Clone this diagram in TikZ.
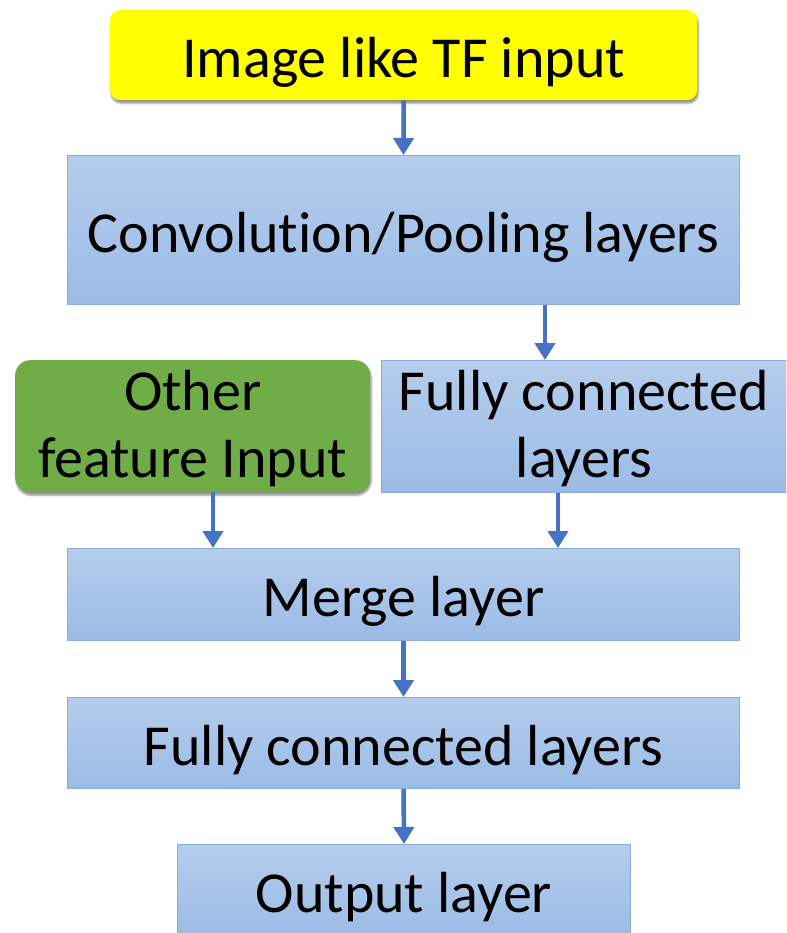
\documentclass[tikz,border=0pt]{standalone}
\usepackage{fontspec}
\setmainfont{Carlito}[Ligatures=NoCommon]
\usetikzlibrary{arrows.meta,shadows.blur}

\definecolor{boxtop}{HTML}{B5CDEC}
\definecolor{boxbot}{HTML}{9BBBE6}
\definecolor{boxedge}{HTML}{8AACDA}
\definecolor{arrowblue}{HTML}{4472C4}
\definecolor{inyellow}{HTML}{FFFF00}
\definecolor{ingreen}{HTML}{70AD47}

\tikzset{
  % a tall invisible strut sets the text a little below the middle of its box
  boxtext/.style={anchor=north west, inner sep=0pt, align=center,
    font=\fontsize{58}{67}\selectfont,
    execute at begin node={\rule{0pt}{54pt}}},
  % two-line texts: a shallower box does the same
  twolines/.style={text depth=4.5pt},
  layerbox/.style={boxtext, draw=boxedge, line width=1pt,
    top color=boxtop, bottom color=boxbot},
  inputbox/.style={boxtext,
    blur shadow={shadow xshift=1pt, shadow yshift=-3pt, shadow blur steps=6,
      shadow opacity=45, shadow blur extra rounding=2pt}},
  flow/.style={draw=arrowblue, line width=4.5pt,
    -{Triangle[width=20pt,length=17pt]}},
}

\begin{document}
\begin{tikzpicture}[x=1pt,y=-1pt]
  \useasboundingbox (0,0) rectangle (786,933);
  \clip (0,0) rectangle (786,933);

  % inputs
  \node[inputbox, fill=inyellow, rounded corners=10pt,
        minimum width=587pt, minimum height=90pt] (img) at (110,10) {Image like TF input};
  \node[inputbox, twolines, fill=ingreen, rounded corners=15pt,
        minimum width=355pt, minimum height=132pt] (other) at (15,360) {Other\\feature Input};

  % layers
  \node[layerbox, minimum width=672pt, minimum height=149pt] (conv) at (67,155) {Convolution/Pooling layers};
  \node[layerbox, twolines, minimum width=405pt, minimum height=132pt] (fca) at (381,360) {Fully connected\\layers};
  \node[layerbox, minimum width=672pt, minimum height=92pt] (merge) at (67,548) {Merge layer};
  \node[layerbox, minimum width=672pt, minimum height=91pt] (fcb) at (67,697) {Fully connected layers};
  \node[layerbox, minimum width=453pt, minimum height=92pt] (out) at (177,844) {Output layer};

  % x positions of the off-centre connectors
  \coordinate (xa) at (545,0);
  \coordinate (xb) at (213,0);
  \coordinate (xc) at (558,0);

  % connectors
  \draw[flow] (img.south) -- (conv.north);
  \draw[flow] (conv.south -| xa) -- (fca.north -| xa);
  \draw[flow] (other.south -| xb) -- (merge.north -| xb);
  \draw[flow] (fca.south -| xc) -- (merge.north -| xc);
  \draw[flow] (merge.south) -- (fcb.north);
  \draw[flow] (fcb.south) -- (out.north);
\end{tikzpicture}
\end{document}
